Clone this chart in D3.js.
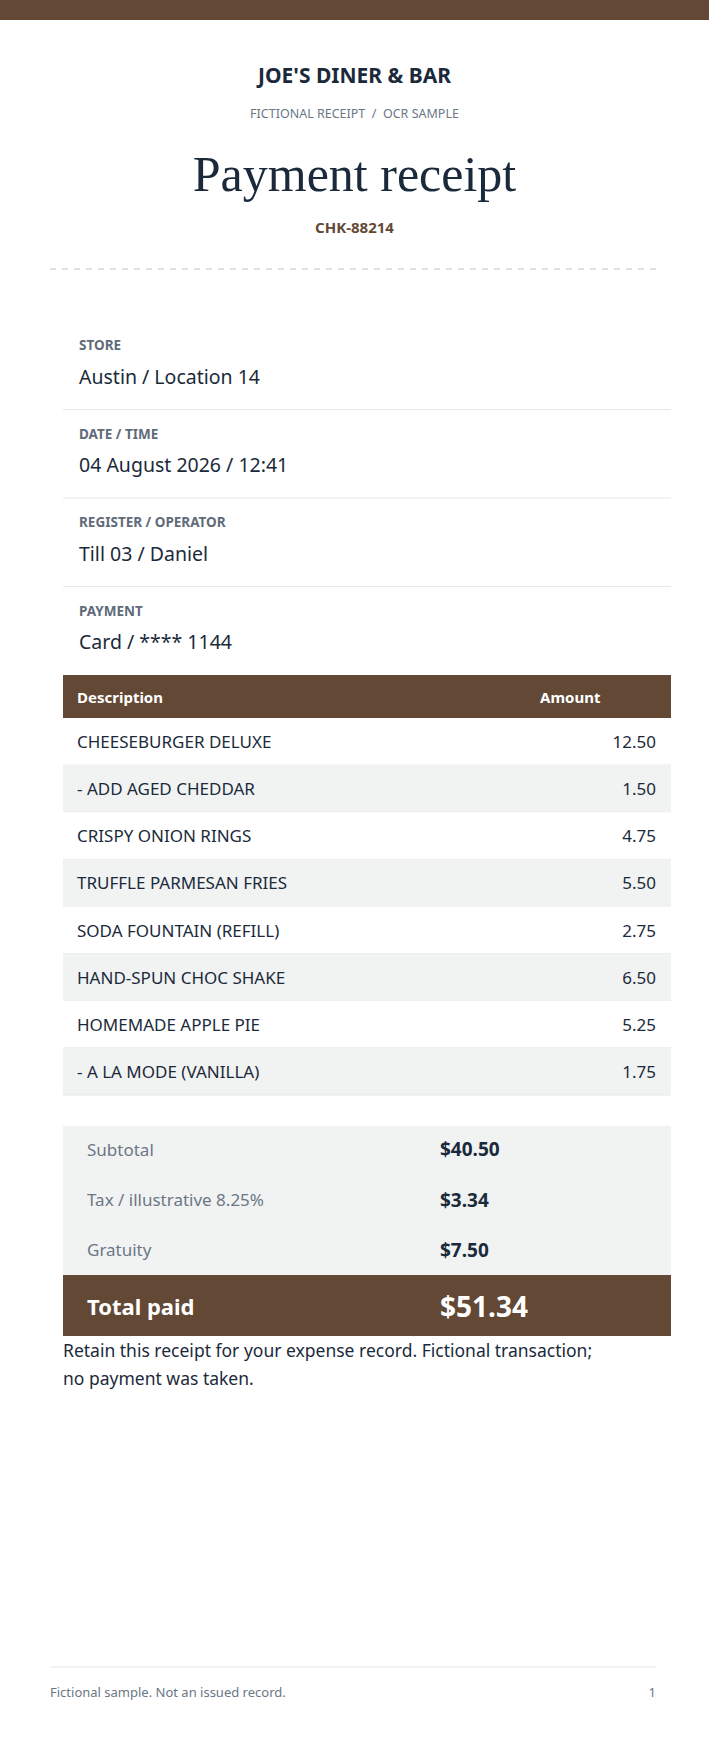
<!DOCTYPE html>
<html><head><meta charset="utf-8">
<script src="https://cdn.jsdelivr.net/npm/d3@7/dist/d3.min.js"></script>
<style>html,body{margin:0;padding:0;background:#fff}svg{display:block}</style>
</head><body>
<script>
const fieldLabels = ["STORE","DATE / TIME","REGISTER / OPERATOR","PAYMENT"];
const fieldValues = ["Austin / Location 14","04 August 2026 / 12:41","Till 03 / Daniel","Card / **** 1144"];
const items = ["CHEESEBURGER DELUXE","- ADD AGED CHEDDAR","CRISPY ONION RINGS","TRUFFLE PARMESAN FRIES","SODA FOUNTAIN (REFILL)","HAND-SPUN CHOC SHAKE","HOMEMADE APPLE PIE","- A LA MODE (VANILLA)"];
const amounts = [12.50,1.50,4.75,5.50,2.75,6.50,5.25,1.75];
const summaryLabels = ["Subtotal","Tax / illustrative 8.25%","Gratuity"];
const summaryValues = ["$40.50","$3.34","$7.50"];
const totalLabel = "Total paid", totalValue = "$51.34";

const W=709,H=1755, brown="#634836", dark="#1b2a3a", grey="#6b7785", SANS="'Noto Sans', 'Open Sans', sans-serif";
const svg=d3.select("body").append("svg").attr("width",W).attr("height",H);
svg.append("rect").attr("width",W).attr("height",20).attr("fill",brown);
const t=(x,y,s,o={})=>svg.append("text").attr("x",x).attr("y",y).text(s)
  .attr("font-family",o.ff||SANS).attr("font-size",o.fs||14).attr("font-weight",o.fw||400)
  .attr("fill",o.c||dark).attr("text-anchor",o.a||"start").attr("dominant-baseline","central");
t(W/2,75,"JOE'S DINER & BAR",{fs:21,fw:700,a:"middle"});
t(W/2,113,"FICTIONAL RECEIPT  /  OCR SAMPLE",{fs:12.5,c:grey,a:"middle"}).attr("xml:space","preserve");
t(W/2,174,"Payment receipt",{fs:50,ff:"Georgia, 'Liberation Serif', serif",a:"middle"});
t(W/2,227,"CHK-88214",{fs:15,fw:700,c:brown,a:"middle"});
svg.append("line").attr("x1",50).attr("x2",656).attr("y1",269).attr("y2",269).attr("stroke","#dde2e5").attr("stroke-width",2).attr("stroke-dasharray","6,6");

const L=63,R=671;
const fy=d3.scaleBand().domain(d3.range(fieldLabels.length)).range([321,675]);
fieldLabels.forEach((l,i)=>{
  const y=fy(i);
  t(79,y+24,l,{fs:13.5,fw:700,c:"#5f6b7a"});
  t(79,y+55,fieldValues[i],{fs:19.5});
  if(i<fieldLabels.length-1) svg.append("line").attr("x1",L).attr("x2",R).attr("y1",y+fy.bandwidth()).attr("y2",y+fy.bandwidth()).attr("stroke","#e6e9eb");
});

svg.append("rect").attr("x",L).attr("y",675).attr("width",R-L).attr("height",43).attr("fill",brown);
t(77,697,"Description",{fs:15,fw:700,c:"#fff"});
t(540,697,"Amount",{fs:15,fw:700,c:"#fff"});
const ry=d3.scaleBand().domain(d3.range(items.length)).range([718,1095]);
items.forEach((it,i)=>{
  const y=ry(i),h=ry.bandwidth();
  svg.append("rect").attr("x",L).attr("y",y).attr("width",R-L).attr("height",h).attr("fill",i%2?"#f1f3f3":"#fff");
  svg.append("line").attr("x1",L).attr("x2",R).attr("y1",y+h).attr("y2",y+h).attr("stroke","#e4e7e9");
  t(77,y+h/2,it,{fs:17});
  t(656,y+h/2,d3.format(".2f")(amounts[i]),{fs:17,a:"end"});
});

svg.append("rect").attr("x",L).attr("y",1126).attr("width",R-L).attr("height",150).attr("fill","#f1f3f3");
const sy=d3.scaleBand().domain(d3.range(summaryLabels.length)).range([1124,1275]);
summaryLabels.forEach((l,i)=>{
  const y=sy(i)+sy.bandwidth()/2;
  t(87,y,l,{fs:17,c:grey});
  t(440,y,summaryValues[i],{fs:19,fw:700});
});
svg.append("rect").attr("x",L).attr("y",1275).attr("width",R-L).attr("height",61).attr("fill",brown);
t(87,1306,totalLabel,{fs:22,fw:700,c:"#fff"});
t(440,1306,totalValue,{fs:28,fw:700,c:"#fff"});
t(63,1350,"Retain this receipt for your expense record. Fictional transaction;",{fs:17.5});
t(63,1378,"no payment was taken.",{fs:17.5});

svg.append("line").attr("x1",50).attr("x2",656).attr("y1",1667).attr("y2",1667).attr("stroke","#e4e7e9");
t(50,1692,"Fictional sample. Not an issued record.",{fs:13,c:grey});
t(656,1692,"1",{fs:13,c:grey,a:"end"});
</script>
</body></html>
